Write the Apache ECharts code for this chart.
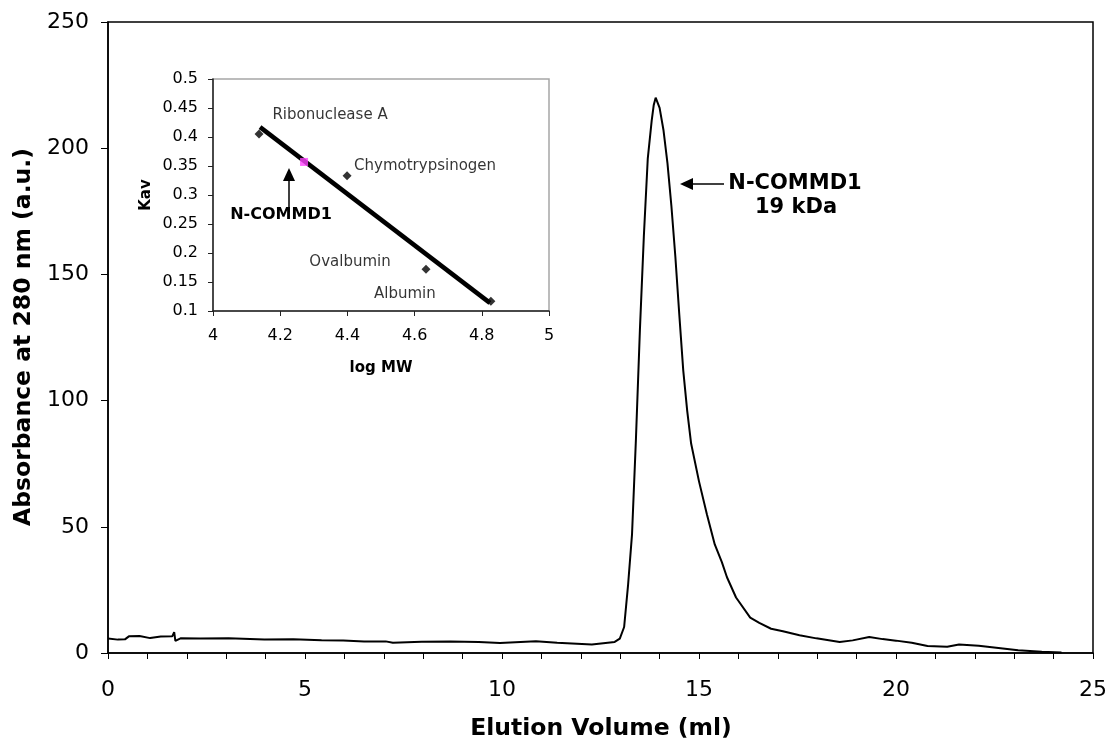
<!DOCTYPE html>
<html>
<head>
<meta charset="utf-8">
<script src="https://cdn.jsdelivr.net/npm/echarts@6/dist/echarts.min.js"></script>
<style>
html,body{margin:0;padding:0;background:#fff;}
#chart{width:1112px;height:744px;}
</style>
</head>
<body>
<div id="chart"></div>
<script>
// ---- Main chromatogram data ----
const elutionVolume = [0, 0.25, 0.43, 0.53, 0.8, 1.07, 1.34, 1.63, 1.68, 1.71, 1.84, 2.34, 3.06, 3.97, 4.7, 5.42, 5.97, 6.5, 7.05, 7.23, 7.96, 8.69, 9.41, 9.95, 10.86, 11.4, 12.28, 12.86, 12.99, 13.1, 13.2, 13.3, 13.4, 13.5, 13.6, 13.7, 13.8, 13.85, 13.9, 13.95, 14.0, 14.1, 14.2, 14.3, 14.4, 14.5, 14.6, 14.7, 14.8, 15.0, 15.2, 15.4, 15.58, 15.71, 15.94, 16.3, 16.53, 16.83, 17.13, 17.55, 17.98, 18.57, 18.9, 19.32, 19.66, 20.0, 20.4, 20.8, 21.3, 21.6, 22.1, 22.6, 23.1, 23.7, 24.2];
const absorbance = [5.7, 5.3, 5.4, 6.6, 6.7, 5.9, 6.5, 6.6, 8.3, 4.8, 5.8, 5.7, 5.8, 5.3, 5.4, 5.1, 5.0, 4.6, 4.6, 4.1, 4.5, 4.6, 4.4, 4.0, 4.7, 4.1, 3.4, 4.4, 5.7, 10.3, 27, 47, 85, 128, 165, 196, 211, 217, 220, 219.5, 216, 207, 194, 177, 157, 134, 112, 96, 83, 68, 55, 43, 36, 30, 22, 14, 11.9, 9.6, 8.6, 7.0, 5.8, 4.4, 5.0, 6.3, 5.5, 4.9, 4.1, 2.8, 2.5, 3.4, 2.9, 2.0, 1.1, 0.5, 0.2];

// ---- Inset calibration data ----
const stdNames = ['Ribonuclease A', 'Chymotrypsinogen', 'Ovalbumin', 'Albumin'];
const stdLogMW = [4.137, 4.399, 4.634, 4.827];
const stdKav = [0.405, 0.333, 0.172, 0.117];
const fitLogMW = [4.140, 4.824];
const fitKav = [0.417, 0.114];
const sampleLogMW = [4.271];
const sampleKav = [0.357];

// label offsets (layout only)
const stdLabelOffsets = [[71, -19], [78, -10], [-76, -7], [-86, -7]];

const FONT = '"DejaVu Sans", Verdana, sans-serif';

const chart = echarts.init(document.getElementById('chart'), null, {renderer: 'canvas'});

const option = {
  backgroundColor: '#fff',
  animation: false,
  grid: [
    {left: 108, top: 22, width: 985, height: 631, show: true, borderColor: '#000', borderWidth: 1.5, backgroundColor: 'transparent'},
    {left: 213, top: 79, width: 336, height: 232, show: true, borderColor: '#a6a6a6', borderWidth: 1.5, backgroundColor: '#fff', z: 5}
  ],
  xAxis: [
    {
      gridIndex: 0, type: 'value', min: 0, max: 25, interval: 5,
      axisLine: {show: true, onZero: false, lineStyle: {color: '#000', width: 1.5}},
      axisTick: {show: true, inside: false, length: 6, lineStyle: {color: '#000', width: 1}},
      minorTick: {show: true, splitNumber: 5, length: 6, lineStyle: {color: '#000', width: 1}},
      splitLine: {show: false},
      axisLabel: {color: '#000', fontSize: 22, fontFamily: FONT, margin: 26}
    },
    {
      gridIndex: 1, type: 'value', min: 4, max: 5, interval: 0.2,
      axisLine: {show: true, onZero: false, lineStyle: {color: '#222', width: 1.5}},
      axisTick: {show: true, inside: false, length: 5, lineStyle: {color: '#222', width: 1}},
      splitLine: {show: false},
      axisLabel: {color: '#000', fontSize: 16, fontFamily: FONT, margin: 17,
        formatter: v => String(+v.toFixed(2))},
      z: 6
    }
  ],
  yAxis: [
    {
      gridIndex: 0, type: 'value', min: 0, max: 250, interval: 50,
      axisLine: {show: true, onZero: false, lineStyle: {color: '#000', width: 1.5}},
      axisTick: {show: true, inside: false, length: 7, lineStyle: {color: '#000', width: 1}},
      splitLine: {show: false},
      axisLabel: {color: '#000', fontSize: 22, fontFamily: FONT, margin: 19}
    },
    {
      gridIndex: 1, type: 'value', min: 0.1, max: 0.5, interval: 0.05,
      axisLine: {show: true, onZero: false, lineStyle: {color: '#222', width: 1.5}},
      axisTick: {show: true, inside: false, length: 5, lineStyle: {color: '#222', width: 1}},
      splitLine: {show: false},
      axisLabel: {color: '#000', fontSize: 16, fontFamily: FONT, margin: 15,
        formatter: v => String(+v.toFixed(2))},
      z: 6
    }
  ],
  series: [
    {
      type: 'line', xAxisIndex: 0, yAxisIndex: 0,
      data: elutionVolume.map((v, i) => [v, absorbance[i]]),
      showSymbol: false, symbol: 'none',
      lineStyle: {color: '#000', width: 2},
      z: 3
    },
    {
      type: 'line', xAxisIndex: 1, yAxisIndex: 1,
      data: fitLogMW.map((v, i) => [v, fitKav[i]]),
      showSymbol: false, symbol: 'none',
      lineStyle: {color: '#000', width: 4.5},
      z: 7
    },
    {
      type: 'scatter', xAxisIndex: 1, yAxisIndex: 1,
      symbol: 'diamond', symbolSize: 9,
      itemStyle: {color: '#000'},
      data: stdLogMW.map((v, i) => ({
        value: [v, stdKav[i]],
        name: stdNames[i],
        label: {show: true, position: 'inside', offset: stdLabelOffsets[i], formatter: stdNames[i],
          color: '#000', fontSize: 15, fontFamily: FONT, textBorderWidth: 0}
      })),
      z: 8
    },
    {
      type: 'scatter', xAxisIndex: 1, yAxisIndex: 1,
      symbol: 'rect', symbolSize: 8,
      itemStyle: {color: '#ff44ff'},
      data: sampleLogMW.map((v, i) => [v, sampleKav[i]]),
      z: 9
    }
  ],
  graphic: [
    // main axis titles
    {type: 'text', x: 601, y: 729, z: 10,
      style: {text: 'Elution Volume (ml)', fontSize: 23.5, fontWeight: 'bold', fontFamily: FONT, fill: '#000', textAlign: 'center', textVerticalAlign: 'middle'}},
    {type: 'text', x: 24, y: 337, rotation: Math.PI / 2, z: 10,
      style: {text: 'Absorbance at 280 nm (a.u.)', fontSize: 23.5, fontWeight: 'bold', fontFamily: FONT, fill: '#000', textAlign: 'center', textVerticalAlign: 'middle'}},
    // inset axis titles
    {type: 'text', x: 381, y: 368, z: 10,
      style: {text: 'log MW', fontSize: 15, fontWeight: 'bold', fontFamily: FONT, fill: '#000', textAlign: 'center', textVerticalAlign: 'middle'}},
    {type: 'text', x: 146, y: 195, rotation: Math.PI / 2, z: 10,
      style: {text: 'Kav', fontSize: 15, fontWeight: 'bold', fontFamily: FONT, fill: '#000', textAlign: 'center', textVerticalAlign: 'middle'}},
    // inset N-COMMD1 annotation
    {type: 'text', x: 281, y: 215, z: 10,
      style: {text: 'N-COMMD1', fontSize: 16, fontWeight: 'bold', fontFamily: FONT, fill: '#000', textAlign: 'center', textVerticalAlign: 'middle'}},
    {type: 'line', z: 10, shape: {x1: 289, y1: 212, x2: 289, y2: 180}, style: {stroke: '#000', lineWidth: 1.5}},
    {type: 'polygon', z: 10, shape: {points: [[289, 168], [283, 181], [295, 181]]}, style: {fill: '#000'}},
    // main peak annotation
    {type: 'text', x: 795, y: 184, z: 10,
      style: {text: 'N-COMMD1', fontSize: 21, fontWeight: 'bold', fontFamily: FONT, fill: '#000', textAlign: 'center', textVerticalAlign: 'middle'}},
    {type: 'text', x: 796, y: 208, z: 10,
      style: {text: '19 kDa', fontSize: 21, fontWeight: 'bold', fontFamily: FONT, fill: '#000', textAlign: 'center', textVerticalAlign: 'middle'}},
    {type: 'line', z: 10, shape: {x1: 724, y1: 184, x2: 691, y2: 184}, style: {stroke: '#000', lineWidth: 1.5}},
    {type: 'polygon', z: 10, shape: {points: [[680, 184], [693, 178], [693, 190]]}, style: {fill: '#000'}}
  ]
};

chart.setOption(option);
</script>
</body>
</html>
